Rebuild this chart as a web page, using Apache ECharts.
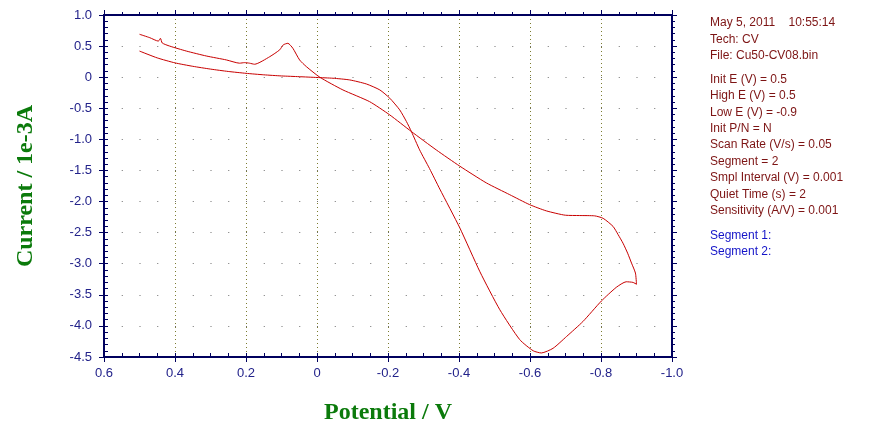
<!DOCTYPE html>
<html>
<head>
<meta charset="utf-8">
<script src="https://cdn.jsdelivr.net/npm/echarts@6/dist/echarts.min.js"></script>
<style>
  html, body { margin: 0; padding: 0; background: #fff; }
  #chart { width: 870px; height: 435px; }
</style>
</head>
<body>
<div id="chart"></div>
<script>
// segment 1: cathodic scan 0.5 -> -0.9 V
const seg1Potential = [0.5, 0.45, 0.4, 0.35, 0.3, 0.25, 0.2, 0.15, 0.1, 0.05, 0.0,
  -0.045, -0.092, -0.139, -0.177, -0.205, -0.233, -0.252, -0.266, -0.289, -0.317, -0.346,
  -0.402, -0.459, -0.515, -0.571, -0.609, -0.632, -0.665, -0.703, -0.749, -0.801, -0.843,
  -0.871, -0.89, -0.9];
const seg1Current = [0.42, 0.31, 0.23, 0.175, 0.13, 0.092, 0.062, 0.038, 0.02, 0.008, -0.005,
  -0.017, -0.044, -0.109, -0.205, -0.338, -0.526, -0.714, -0.875, -1.169, -1.47, -1.80,
  -2.42, -3.13, -3.74, -4.22, -4.40, -4.435, -4.36, -4.17, -3.93, -3.6, -3.38,
  -3.29, -3.30, -3.33];

// segment 2: anodic scan -0.9 -> 0.5 V
const seg2Potential = [-0.9, -0.897, -0.886, -0.875, -0.862, -0.848, -0.834, -0.806, -0.782,
  -0.74, -0.70, -0.646, -0.599, -0.543, -0.477, -0.402, -0.336, -0.266, -0.205, -0.148,
  -0.073, -0.008, 0.03, 0.049, 0.068, 0.082, 0.095, 0.105, 0.133, 0.176, 0.19, 0.204,
  0.218, 0.255, 0.312, 0.368, 0.415, 0.436, 0.441, 0.447, 0.471, 0.5];
const seg2Current = [-3.33, -3.15, -2.99, -2.83, -2.67, -2.53, -2.40, -2.27, -2.23,
  -2.225, -2.22, -2.15, -2.05, -1.89, -1.70, -1.43, -1.17, -0.875, -0.607, -0.393,
  -0.205, -0.001, 0.17, 0.277, 0.465, 0.545, 0.52, 0.44, 0.33, 0.208, 0.225, 0.234,
  0.225, 0.277, 0.341, 0.42, 0.50, 0.55, 0.625, 0.58, 0.635, 0.69];

const infoLines = ['May 5, 2011    10:55:14', 'Tech: CV', 'File: Cu50-CV08.bin'];
const paramLines = ['Init E (V) = 0.5', 'High E (V) = 0.5', 'Low E (V) = -0.9', 'Init P/N = N',
  'Scan Rate (V/s) = 0.05', 'Segment = 2', 'Smpl Interval (V) = 0.001', 'Quiet Time (s) = 2',
  'Sensitivity (A/V) = 0.001'];
const segmentLines = ['Segment 1:', 'Segment 2:'];

const axisColor = '#00005e';
const labelColor = '#22228a';
const titleColor = '#0b7a0b';

function pairs(xs, ys) {
  return xs.map((x, i) => [x, ys[i]]);
}

function tickFmt(v) {
  if (Math.abs(v) < 1e-9) return '0';
  return v.toFixed(1);
}

// right-hand text block
let graphics = [];
let y = 24;
infoLines.forEach((t) => {
  graphics.push({ type: 'text', left: 710, top: y - 7, style: { text: t, fill: '#7d1414', font: '12px "Liberation Sans", Arial, sans-serif' } });
  y += 16.4;
});
y += 7.3;
paramLines.forEach((t) => {
  graphics.push({ type: 'text', left: 710, top: y - 7, style: { text: t, fill: '#7d1414', font: '12px "Liberation Sans", Arial, sans-serif' } });
  y += 16.4;
});
y += 8.4;
segmentLines.forEach((t) => {
  graphics.push({ type: 'text', left: 710, top: y - 7, style: { text: t, fill: '#1414c8', font: '12px "Liberation Sans", Arial, sans-serif' } });
  y += 16.4;
});

const gridRect = { left: 104, right: 198, top: 15, bottom: 78 };

const option = {
  animation: false,
  backgroundColor: '#fff',
  grid: [
    Object.assign({}, gridRect),
    Object.assign({}, gridRect),
  ],
  xAxis: [
    {
      gridIndex: 0, type: 'value', position: 'bottom', inverse: true,
      min: -1.0, max: 0.6, interval: 0.2,
      name: 'Potential / V', nameLocation: 'middle', nameGap: 44,
      nameTextStyle: { fontFamily: '"Liberation Serif", "Times New Roman", serif', fontWeight: 'bold', fontSize: 24, color: titleColor },
      axisLine: { show: true, onZero: false, lineStyle: { color: axisColor, width: 2 } },
      axisTick: { show: true, inside: false, length: 5, lineStyle: { color: axisColor } },
      axisLabel: { margin: 10, color: labelColor, fontSize: 13, fontFamily: '"Liberation Sans", Arial, sans-serif', formatter: tickFmt },
      splitLine: { show: true, lineStyle: { color: '#7c7c30', type: [1, 3], width: 1 } },
    },
    {
      gridIndex: 0, type: 'value', position: 'top', inverse: true,
      min: -1.0, max: 0.6, interval: 0.2,
      axisLine: { show: true, onZero: false, lineStyle: { color: axisColor, width: 2 } },
      axisTick: { show: true, inside: false, length: 5, lineStyle: { color: axisColor } },
      minorTick: { show: true, splitNumber: 4, length: 3, lineStyle: { color: axisColor } },
      axisLabel: { show: false },
      splitLine: { show: false },
    },
    {
      gridIndex: 1, type: 'value', position: 'bottom', inverse: true,
      min: -1.0, max: 0.6, interval: 0.05,
      axisLine: { show: false, onZero: false },
      axisTick: { show: true, inside: true, length: 4, lineStyle: { color: axisColor } },
      axisLabel: { show: false },
      splitLine: { show: false },
    },
  ],
  yAxis: [
    {
      gridIndex: 0, type: 'value', position: 'left',
      min: -4.5, max: 1.0, interval: 0.5,
      name: 'Current / 1e-3A', nameLocation: 'middle', nameGap: 66, nameRotate: 90,
      nameTextStyle: { fontFamily: '"Liberation Serif", "Times New Roman", serif', fontWeight: 'bold', fontSize: 24, color: titleColor },
      axisLine: { show: true, onZero: false, lineStyle: { color: axisColor, width: 2 } },
      axisTick: { show: true, inside: false, length: 5, lineStyle: { color: axisColor } },
      axisLabel: { margin: 12, color: labelColor, fontSize: 13, fontFamily: '"Liberation Sans", Arial, sans-serif', formatter: tickFmt },
      splitLine: { show: true, lineStyle: { color: '#707070', type: [1, 16.75], width: 1 } },
    },
    {
      gridIndex: 0, type: 'value', position: 'right',
      min: -4.5, max: 1.0, interval: 0.5,
      axisLine: { show: true, onZero: false, lineStyle: { color: axisColor, width: 2 } },
      axisTick: { show: true, inside: false, length: 5, lineStyle: { color: axisColor } },
      minorTick: { show: true, splitNumber: 5, length: 3, lineStyle: { color: axisColor } },
      axisLabel: { show: false },
      splitLine: { show: false },
    },
    {
      gridIndex: 1, type: 'value', position: 'left',
      min: -4.5, max: 1.0, interval: 0.1,
      axisLine: { show: false, onZero: false },
      axisTick: { show: true, inside: true, length: 4, lineStyle: { color: axisColor } },
      axisLabel: { show: false },
      splitLine: { show: false },
    },
  ],
  graphic: graphics,
  series: [
    {
      name: 'Segment 1', type: 'line', xAxisIndex: 0, yAxisIndex: 0,
      data: pairs(seg1Potential, seg1Current),
      showSymbol: false, smooth: 0.2,
      lineStyle: { color: '#c80000', width: 1 },
    },
    {
      name: 'Segment 2', type: 'line', xAxisIndex: 0, yAxisIndex: 0,
      data: pairs(seg2Potential, seg2Current),
      showSymbol: false, smooth: 0.2,
      lineStyle: { color: '#c80000', width: 1 },
    },
  ],
};

const chart = echarts.init(document.getElementById('chart'), null, { renderer: 'canvas' });
chart.setOption(option);
</script>
</body>
</html>
